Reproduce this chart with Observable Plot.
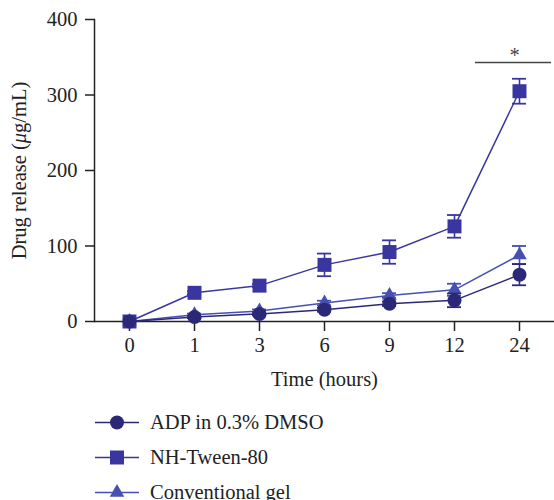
<!DOCTYPE html>
<html>
<head>
<meta charset="utf-8">
<script src="https://cdn.jsdelivr.net/npm/d3@7"></script>
<script src="https://cdn.jsdelivr.net/npm/@observablehq/plot@0.6"></script>
<style>
  body { margin: 0; background: #fff; font-family: "Liberation Serif", "DejaVu Serif", serif; }
  #chart { width: 554px; }
  .legend { margin-top: 5px; }
  .legend .item { display: flex; align-items: center; height: 35px; padding-left: 95px; font-size: 20.5px; color: #222; }
  .legend .item svg { display: block; }
  .legend .item span { margin-left: 11px; }
</style>
</head>
<body>
<div id="chart"></div>
<div class="legend" id="legend"></div>
<script>
// Sampling times (hours), shown as evenly spaced categories
const times = ["0", "1", "3", "6", "9", "12", "24"];

// Cumulative drug release (µg/mL), mean and error
const adpMean   = [0, 6, 10, 15.5, 23.5, 28, 62];
const adpErr    = [0, 1.5, 2, 2.5, 3, 9, 14];
const tweenMean = [0, 38, 47.5, 75, 92, 126, 305];
const tweenErr  = [0, 2, 2, 15, 15.5, 15, 16.5];
const gelMean   = [0, 9, 14, 24.5, 34.5, 42, 88];
const gelErr    = [0, 1.5, 2, 3, 3, 8, 12];

const seriesNames = ["ADP in 0.3% DMSO", "NH-Tween-80", "Conventional gel"];
const yTicks = [0, 100, 200, 300, 400];

// Significance bar between 12 h and 24 h
const sigLevel = 343;
const sigLabel = "*";
const sigLabelLevel = 352;

const series = [
  {name: seriesNames[1], mean: tweenMean, err: tweenErr, color: "#3a36a0", symbol: "square", r: 7.9},
  {name: seriesNames[2], mean: gelMean, err: gelErr, color: "#4650b3", symbol: "triangle", r: 5.4},
  {name: seriesNames[0], mean: adpMean, err: adpErr, color: "#2b2877", symbol: "circle", r: 7}
];

function rows(s) {
  return times.map((t, i) => ({time: t, value: s.mean[i], lo: s.mean[i] - s.err[i], hi: s.mean[i] + s.err[i]}));
}

const marks = [];
for (const s of series) {
  const data = rows(s);
  const bars = data.filter(d => d.hi > d.lo);
  marks.push(
    Plot.ruleX(bars, {x: "time", y1: "lo", y2: "hi", stroke: s.color, strokeWidth: 1.6}),
    Plot.ruleY(bars, {x1: "time", x2: "time", y: "lo", stroke: s.color, strokeWidth: 1.8, insetLeft: -7, insetRight: -7}),
    Plot.ruleY(bars, {x1: "time", x2: "time", y: "hi", stroke: s.color, strokeWidth: 1.8, insetLeft: -7, insetRight: -7}),
    Plot.line(data, {x: "time", y: "value", stroke: s.color, strokeWidth: 1.5}),
    Plot.dot(data, {x: "time", y: "value", symbol: () => s.symbol, fill: s.color, r: s.r, stroke: "none"})
  );
}

const chart = Plot.plot({
  width: 554,
  height: 400,
  marginLeft: 94,
  marginRight: 0,
  marginTop: 19,
  marginBottom: 79,
  style: {fontFamily: "'Liberation Serif', 'DejaVu Serif', serif", fontSize: "20px", color: "#222", background: "#fff"},
  x: {type: "point", domain: times, padding: 0.5},
  y: {domain: [0, 400]},
  symbol: {type: "identity"},
  marks: [
    Plot.frame({anchor: "left", stroke: "#222", strokeWidth: 1.5}),
    Plot.ruleY([0], {stroke: "#222", strokeWidth: 1.5}),
    Plot.axisY({ticks: yTicks, tickSize: 9, tickPadding: 8, tickFormat: d => d, label: "Drug release (μg/mL)", labelAnchor: "center", labelOffset: 83, labelArrow: "none", fontSize: 20.5, strokeWidth: 1.5}),
    Plot.axisX({tickSize: 10, tickPadding: 6, label: "Time (hours)", labelAnchor: "center", labelOffset: 64, labelArrow: "none", fontSize: 20.5, strokeWidth: 1.5}),
    ...marks,
    Plot.ruleY([sigLevel], {x1: () => "12", x2: () => "24", y: d => d, insetLeft: 21, insetRight: -32, stroke: "#444", strokeWidth: 1.6}),
    Plot.text([sigLabel], {x: () => "24", y: () => sigLabelLevel, text: d => d, dx: -5, fontSize: 20.5, fill: "#444"})
  ]
});
document.getElementById("chart").appendChild(chart);

// Italic mu in the y-axis title
for (const t of chart.querySelectorAll("text")) {
  if (t.textContent.includes("μg/mL")) {
    t.innerHTML = 'Drug release (<tspan font-style="italic">μ</tspan>g/mL)';
  }
}

// Legend: line with marker, then the series name
const legend = d3.select("#legend");
const order = [seriesNames[0], seriesNames[1], seriesNames[2]];
for (const name of order) {
  const s = series.find(d => d.name === name);
  const item = legend.append("div").attr("class", "item");
  const svg = item.append("svg").attr("width", 44).attr("height", 35);
  svg.append("line").attr("x1", 0).attr("x2", 44).attr("y1", 17.5).attr("y2", 17.5).attr("stroke", s.color).attr("stroke-width", 1.5);
  const sym = {circle: d3.symbolCircle, square: d3.symbolSquare, triangle: d3.symbolTriangle}[s.symbol];
  svg.append("path").attr("transform", "translate(22,17.5)").attr("d", d3.symbol(sym, Math.PI * s.r * s.r)()).attr("fill", s.color);
  item.append("span").text(s.name);
}
</script>
</body>
</html>
